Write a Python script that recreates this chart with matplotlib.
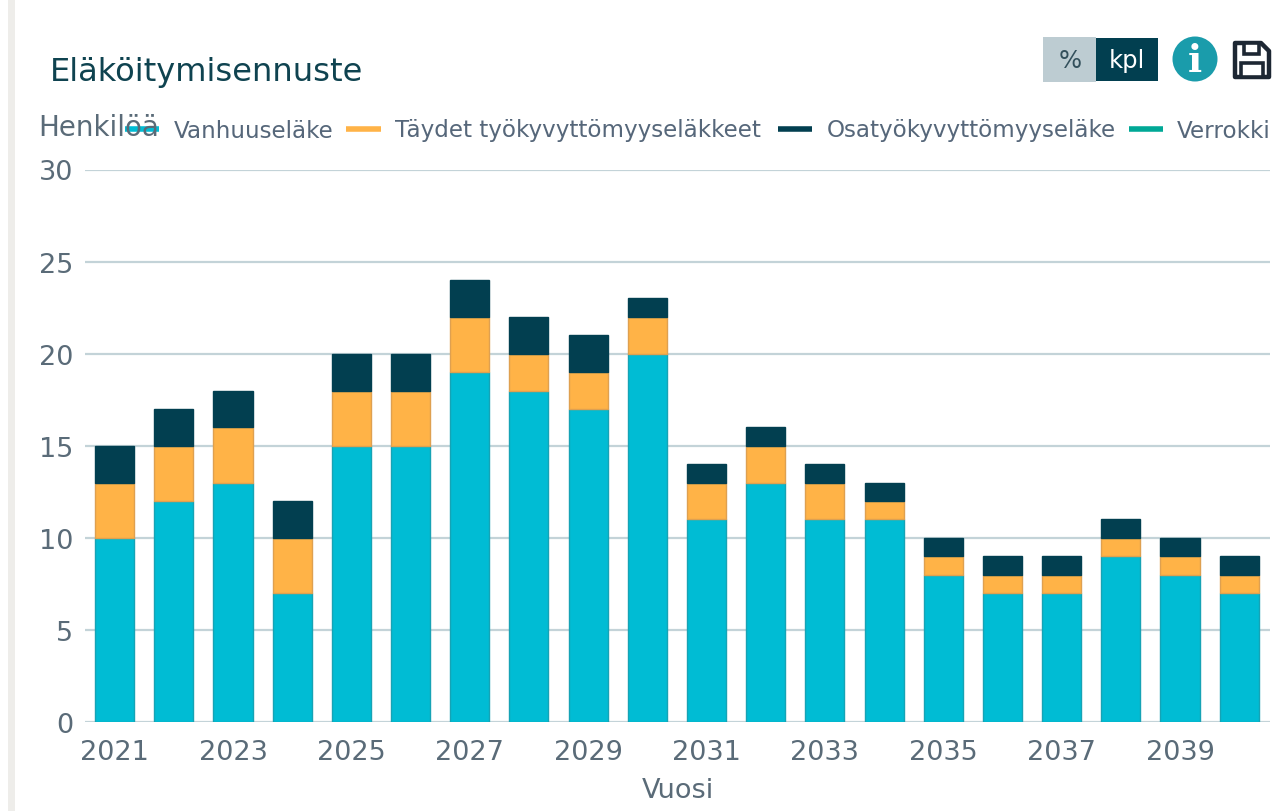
import matplotlib

matplotlib.use("Agg")
import matplotlib.pyplot as plt
from matplotlib.lines import Line2D
from matplotlib.patches import Circle, Polygon, Rectangle
import numpy as np

W, H = 1285, 812

years = np.arange(2021, 2041)
vanhuus = [10, 12, 13, 7, 15, 15, 19, 18, 17, 20, 11, 13, 11, 11, 8, 7, 7, 9, 8, 7]
taydet = [3, 3, 3, 3, 3, 3, 3, 2, 2, 2, 2, 2, 2, 1, 1, 1, 1, 1, 1, 1]
osa = [2, 2, 2, 2, 2, 2, 2, 2, 2, 1, 1, 1, 1, 1, 1, 1, 1, 1, 1, 1]

COL_VANHUUS = "#00bcd4"
COL_TAYDET = "#ffb347"
COL_OSA = "#023f50"
COL_VERROKKI = "#00a896"
COL_TEXT = "#5a6b78"
COL_GRID = "#c3d3d8"

fig = plt.figure(figsize=(W / 100, H / 100), dpi=100, facecolor="white")

# pikselikoordinaatit: vasen 85, oikea 1270, y=0 -> 723, y=30 -> 170
ax = fig.add_axes([85 / W, 1 - 723 / H, (1270 - 85) / W, (723 - 170.5) / H])
ax.set_axisbelow(True)

bottom = np.zeros(len(years))
for vals, col, edge in [(vanhuus, COL_VANHUUS, "#16a3b5"),
                        (taydet, COL_TAYDET, "#dfa050"),
                        (osa, COL_OSA, "#023f50")]:
    ax.bar(years, vals, width=0.66, bottom=bottom, color=col, edgecolor=edge, linewidth=1)
    bottom += np.array(vals)

ax.set_xlim(2020.5, 2040.52)
ax.set_ylim(0, 30)
ax.set_yticks(range(0, 31, 5))
ax.set_xticks(years[::2])
ax.yaxis.grid(True, color=COL_GRID, linewidth=1.6)
ax.tick_params(axis="both", length=0, labelsize=19.5, labelcolor=COL_TEXT)
ax.tick_params(axis="x", pad=12.5)
ax.tick_params(axis="y", pad=8.5)
for s in ax.spines.values():
    s.set_visible(False)
ax.set_xlabel("Vuosi", fontsize=19.5, color=COL_TEXT, labelpad=8.5)

# ylaosan tekstit, selite ja painikkeet
ov = fig.add_axes([0, 0, 1, 1], facecolor="none")
ov.set_xlim(0, W)
ov.set_ylim(H, 0)
ov.axis("off")

ov.add_patch(Rectangle((8, 0), 7, H, color="#eeedea", lw=0))
ov.text(50, 73, "Eläköitymisennuste", fontsize=23.1, color="#0f4350", va="center")
ov.text(38, 128, "Henkilöä", fontsize=20, color=COL_TEXT, va="center")

legend_items = [(125, 159, COL_VANHUUS, 174, "Vanhuuseläke"),
                (346, 381, COL_TAYDET, 395, "Täydet työkyvyttömyyseläkkeet"),
                (778, 812, COL_OSA, 827, "Osatyökyvyttömyyseläke"),
                (1129, 1163, COL_VERROKKI, 1177, "Verrokki")]
for x0, x1, col, tx, label in legend_items:
    ov.add_line(Line2D([x0, x1], [130, 130], color=col, linewidth=4, solid_capstyle="butt"))
    ov.text(tx, 131, label, fontsize=16.6, color="#56677a", va="center")

ov.add_patch(Rectangle((1043, 38), 53, 45, color="#bdccd2", lw=0))
ov.add_patch(Rectangle((1096, 39), 62, 43, color="#023f50", lw=0))
ov.text(1070, 61, "%", fontsize=17.5, color="#33505c", ha="center", va="center")
ov.text(1127, 61, "kpl", fontsize=17.5, color="white", ha="center", va="center")

ov.add_patch(Circle((1195, 60), 22.5, color="#1a9cab", lw=0))
ov.text(1195, 62, "i", fontsize=27, color="white", ha="center", va="center",
        family="DejaVu Serif", fontweight="bold")

# tallennuskuvake
ov.add_patch(Polygon([(1235, 44), (1261, 44), (1269, 52), (1269, 78), (1235, 78)],
                     closed=True, fc="white", ec="#1d2733", lw=3.2, joinstyle="round"))
ov.add_patch(Rectangle((1244, 44), 15, 11, fc="white", ec="#1d2733", lw=2.6))
ov.add_patch(Rectangle((1241, 64), 22, 14, fc="white", ec="#1d2733", lw=2.6))

fig.savefig("out.png", dpi=100)
